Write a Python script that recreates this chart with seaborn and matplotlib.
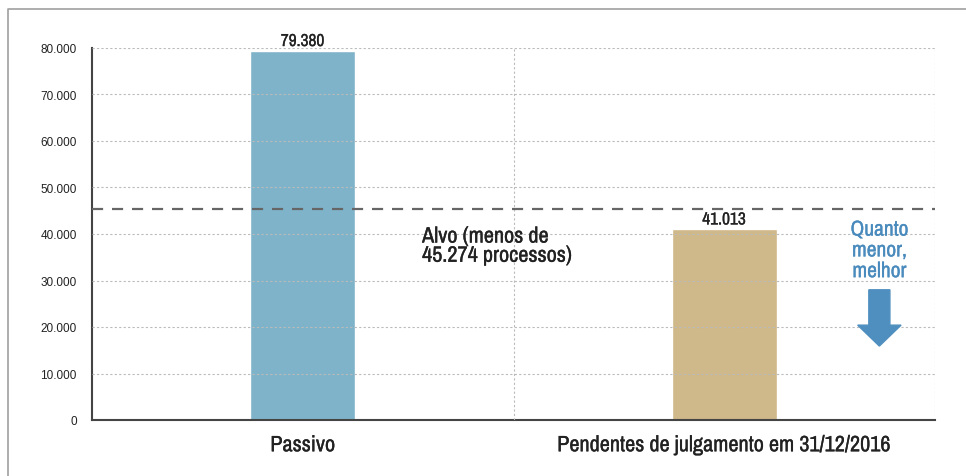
import pandas as pd
import seaborn as sns
import matplotlib.pyplot as plt
import matplotlib.patheffects as pe
from matplotlib import font_manager
from matplotlib.patches import FancyArrow
from matplotlib.lines import Line2D

# Data
categorias = ["Passivo", "Pendentes de julgamento em 31/12/2016"]
valores = [79380, 41013]
cores = ["#7fb3c9", "#cfb88a"]
alvo = 45274
rotulos_y = ["0", "10.000", "20.000", "30.000", "40.000", "50.000", "60.000", "70.000", "80.000"]

df = pd.DataFrame({"categoria": categorias, "valor": valores})

sns.set_theme(style="white")

# look for a condensed family, fall back to Roboto
nomes = sorted({f.name for f in font_manager.fontManager.ttflist})
cond = [n for n in nomes if "Narrow" in n or "Condensed" in n]
narrow = (cond[:1] or ["Roboto"]) + ["DejaVu Sans"]
plt.rcParams['font.family'] = ["Liberation Sans", "DejaVu Sans"]

fig = plt.figure(figsize=(9.66, 4.77), dpi=100)
ax = fig.add_axes([92 / 966, 1 - 421 / 477, (935 - 92) / 966, (421 - 49) / 477])

# outer frame (top and left)
fig.add_artist(Line2D([8 / 966, 8 / 966, 1], [0, 1 - 10 / 477, 1 - 10 / 477],
                      transform=fig.transFigure, color="#a0a0a0", lw=1.2))

sns.barplot(data=df, x="categoria", y="valor", hue="categoria", palette=cores,
            width=0.25, saturation=1, legend=False, ax=ax, zorder=2)

ax.set_xlim(-0.5, 1.5)
ax.set_ylim(0, 80000)
ax.set_yticks(range(0, 80001, 10000))
ax.set_yticklabels(rotulos_y, fontsize=8.5, color="#222222")
ax.set_xlabel("")
ax.set_ylabel("")


def grosso(cor):
    # a thin outline makes the narrow font look a bit heavier
    return [pe.withStroke(linewidth=0.2, foreground=cor)]


for lbl in ax.get_xticklabels():
    lbl.set_fontfamily(narrow)
    lbl.set_fontsize(16)
    lbl.set_color("#222222")
    lbl.set_path_effects(grosso("#222222"))
ax.tick_params(axis="x", pad=11, length=0)
ax.tick_params(axis="y", pad=11, length=0)

# grid
for y in range(10000, 80001, 10000):
    ax.axhline(y, color="#bbbbbb", lw=0.8, ls=(0, (2, 2)), zorder=3)
for x in [0.5, 1.5]:
    ax.axvline(x, color="#bbbbbb", lw=0.8, ls=(0, (2, 2)), zorder=3)

for s in ["top", "right"]:
    ax.spines[s].set_visible(False)
for s in ["left", "bottom"]:
    ax.spines[s].set_color("#444444")
    ax.spines[s].set_linewidth(1.5)

# target line
ax.axhline(alvo, color="#666666", lw=1.6, ls=(0, (5, 4)), zorder=4)

# value labels
for i, v in enumerate(valores):
    ax.text(i, v + 400, f"{v:,}".replace(",", "."), ha="center", va="bottom",
            fontsize=12.5, family=narrow, color="#222222", zorder=5,
            path_effects=grosso("#222222"))

ax.text(0.283, 41600, "Alvo (menos de\n45.274 processos)", ha="left", va="top",
        fontsize=16, family=narrow, color="#222222",
        linespacing=0.95, zorder=5, path_effects=grosso("#222222"))

ax.text(1.368, 43100, "Quanto\nmenor,\nmelhor", ha="center", va="top",
        fontsize=15.5, family=narrow, color="#4a8bbd",
        linespacing=1.05, zorder=5, path_effects=grosso("#4a8bbd"))

# arrow
arr = FancyArrow(1.368, 28000, 0, -12100, width=0.05, head_width=0.103,
                 head_length=4500, length_includes_head=True,
                 color="#4f8fbf", zorder=5)
ax.add_patch(arr)

fig.savefig("out.png", dpi=100)
